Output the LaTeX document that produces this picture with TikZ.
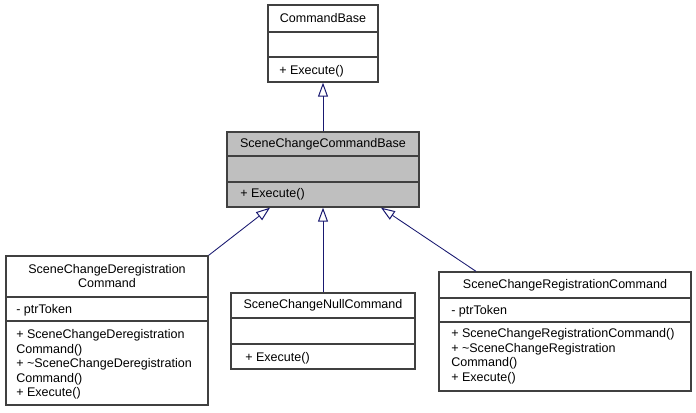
\documentclass[tikz,border=0pt]{standalone}
\usepackage{fontspec}
\setmainfont{Liberation Sans}
\usetikzlibrary{arrows.meta}
\definecolor{edgecol}{HTML}{191970}
\definecolor{boxborder}{HTML}{404040}
\definecolor{basefill}{HTML}{BFBFBF}
\begin{document}
\begin{tikzpicture}[x=0.75pt,y=-0.75pt,
  classbox/.style={draw=boxborder, line width=1pt, fill=white, rectangle, inner sep=0pt},
  divider/.style={draw=boxborder, line width=1pt},
  lbl/.style={inner sep=0pt, font=\fontsize{9.4}{10.9}\selectfont, text=black},
  inh/.style={draw=edgecol, line width=0.65pt, -{Triangle[open, length=10.5pt, width=7.5pt, line width=0.75pt]}}
]
\useasboundingbox (0,0) rectangle (696,412);

% CommandBase
\node[classbox, minimum width=82.5pt, minimum height=57.75pt] (cb) at (323,43.5) {};
\draw[divider] (cb.west |- 0,32) -- (cb.east |- 0,32);
\draw[divider] (cb.west |- 0,57) -- (cb.east |- 0,57);
\node[lbl, anchor=base] (cbt) at (323,22) {CommandBase};
\node[lbl, anchor=base west] (cbm1) at (279,74.5) {+ Execute()};

% SceneChangeCommandBase
\node[classbox, fill=basefill, minimum width=144pt, minimum height=56.25pt] (sccb) at (323,169.5) {};
\draw[divider] (sccb.west |- 0,156) -- (sccb.east |- 0,156);
\draw[divider] (sccb.west |- 0,182) -- (sccb.east |- 0,182);
\node[lbl, anchor=base] (sccbt) at (323,147.5) {SceneChangeCommandBase};
\node[lbl, anchor=base west] (sccbm1) at (240,197.5) {+ Execute()};

% SceneChangeDeregistrationCommand
\node[classbox, minimum width=151.5pt, minimum height=111.75pt] (dereg) at (107,330.5) {};
\draw[divider] (dereg.west |- 0,297) -- (dereg.east |- 0,297);
\draw[divider] (dereg.west |- 0,321) -- (dereg.east |- 0,321);
\node[lbl, anchor=base] (deregt1) at (107,273.5) {SceneChangeDeregistration};
\node[lbl, anchor=base] (deregt2) at (107,287) {Command};
\node[lbl, anchor=base west] (derega1) at (16,313.5) {- ptrToken};
\node[lbl, anchor=base west] (deregm1) at (16,338.5) {+ SceneChangeDeregistration};
\node[lbl, anchor=base west] (deregm2) at (16,353) {Command()};
\node[lbl, anchor=base west] (deregm3) at (16,367.5) {+ \char"7E SceneChangeDeregistration};
\node[lbl, anchor=base west] (deregm4) at (16,382) {Command()};
\node[lbl, anchor=base west] (deregm5) at (16,396.5) {+ Execute()};

% SceneChangeNullCommand
\node[classbox, minimum width=138pt, minimum height=57pt] (null) at (323,331) {};
\draw[divider] (null.west |- 0,318) -- (null.east |- 0,318);
\draw[divider] (null.west |- 0,344) -- (null.east |- 0,344);
\node[lbl, anchor=base] (nullt) at (323,308.5) {SceneChangeNullCommand};
\node[lbl, anchor=base west] (nullm1) at (245,361.5) {+ Execute()};

% SceneChangeRegistrationCommand
\node[classbox, minimum width=189pt, minimum height=89.25pt] (reg) at (565,331.5) {};
\draw[divider] (reg.west |- 0,298) -- (reg.east |- 0,298);
\draw[divider] (reg.west |- 0,322) -- (reg.east |- 0,322);
\node[lbl, anchor=base] (regt) at (565,288) {SceneChangeRegistrationCommand};
\node[lbl, anchor=base west] (rega1) at (451,314.5) {- ptrToken};
\node[lbl, anchor=base west] (regm1) at (451,337.5) {+ SceneChangeRegistrationCommand()};
\node[lbl, anchor=base west] (regm2) at (451,352) {+ \char"7E SceneChangeRegistration};
\node[lbl, anchor=base west] (regm3) at (451,366.5) {Command()};
\node[lbl, anchor=base west] (regm4) at (451,381) {+ Execute()};

% inheritance arrows
\draw[inh] (sccb.north) -- (cb.south);
\draw[inh] (dereg.north east) -- (sccb.south -| 270,0);
\draw[inh] (null.north) -- (sccb.south);
\draw[inh] (reg.north -| 476,0) -- (sccb.south -| 381,0);
\end{tikzpicture}
\end{document}
